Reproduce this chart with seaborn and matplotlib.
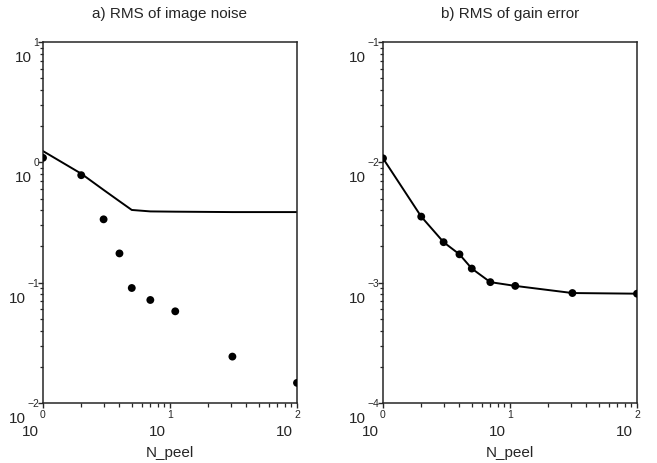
import numpy as np
import matplotlib
matplotlib.use("Agg")
import matplotlib.pyplot as plt
import seaborn as sns

# values
n_peel = [1, 2, 3, 4, 5, 7, 11, 31, 100]
noise_dots = [1.09, 0.782, 0.336, 0.175, 0.0903, 0.0718, 0.0578, 0.0243, 0.0147]
noise_line = [1.24, 0.805, 0.59, 0.475, 0.402, 0.391, 0.389, 0.386, 0.386]
gain_err = [0.0108, 0.00354, 0.00217, 0.00172, 0.00131, 0.00101, 0.00094, 0.00082, 0.00081]

titles = ["a) RMS of image noise", "b) RMS of gain error"]
x_decades = [0, 1, 2]
y_decades = [[-2, -1, 0, 1], [-4, -3, -2, -1]]

sns.set_style("ticks")
plt.rcParams["font.family"] = ["Liberation Sans", "DejaVu Sans"]

PX = 72 / 100  # one pixel in points at dpi 100

fig = plt.figure(figsize=(6.57, 4.64), dpi=100)
ax_a = fig.add_axes([43 / 657, 60 / 464, 254 / 657, 361 / 464])
ax_b = fig.add_axes([383 / 657, 60 / 464, 254 / 657, 361 / 464])


def exp_label(e):
    return str(e).replace("-", "\u2212")


def style_axes(ax, title, ydec):
    ax.set_xscale("log")
    ax.set_yscale("log")
    ax.set_xlim(10 ** x_decades[0], 10 ** x_decades[-1])
    ax.set_ylim(10 ** ydec[0], 10 ** ydec[-1])
    for s in ax.spines.values():
        s.set_visible(True)
        s.set_linewidth(1.1)
    ax.tick_params(which="major", direction="out", length=5 * PX, width=1.0,
                   top=False, right=False)
    ax.tick_params(which="minor", direction="out", length=3.5 * PX, width=0.9,
                   top=False, right=False)
    ax.xaxis.set_major_formatter(matplotlib.ticker.NullFormatter())
    ax.xaxis.set_minor_formatter(matplotlib.ticker.NullFormatter())
    ax.yaxis.set_major_formatter(matplotlib.ticker.NullFormatter())
    ax.yaxis.set_minor_formatter(matplotlib.ticker.NullFormatter())
    ax.set_xlabel("")
    ax.set_ylabel("")
    ax.set_title(title, fontsize=11, pad=25 * PX)
    ax.text(0.5, -49 / 361, "N_peel", transform=ax.transAxes,
            ha="center", va="center", fontsize=11)

    # old style labels: small exponent at the tick, "10" set below it
    for e in ydec:
        ex = ax.annotate(exp_label(e), xy=(0, 10 ** e),
                         xycoords=("axes fraction", "data"),
                         xytext=(-4 * PX, 0), textcoords="offset points",
                         ha="right", va="center", fontsize=7.5)
        ax.annotate("10", xy=(0, 0.5), xycoords=ex,
                    xytext=(-1 * PX, -15 * PX), textcoords="offset points",
                    ha="right", va="center", fontsize=11)
    for e in x_decades:
        ex = ax.annotate(exp_label(e), xy=(10 ** e, 0),
                         xycoords=("data", "axes fraction"),
                         xytext=(0, -11 * PX), textcoords="offset points",
                         ha="center", va="center", fontsize=7.5)
        ax.annotate("10", xy=(0, 0.5), xycoords=ex,
                    xytext=(-1 * PX, -17 * PX), textcoords="offset points",
                    ha="right", va="center", fontsize=11)


# a) image noise
sns.lineplot(x=n_peel, y=noise_line, ax=ax_a, color="black", linewidth=1.4,
             estimator=None, sort=False)
sns.scatterplot(x=n_peel, y=noise_dots, ax=ax_a, color="black", s=32,
                edgecolor="none", zorder=3)
style_axes(ax_a, titles[0], y_decades[0])

# b) gain error
sns.lineplot(x=n_peel, y=gain_err, ax=ax_b, color="black", linewidth=1.4,
             estimator=None, sort=False)
sns.scatterplot(x=n_peel, y=gain_err, ax=ax_b, color="black", s=32,
                edgecolor="none", zorder=3)
style_axes(ax_b, titles[1], y_decades[1])

fig.savefig("out.png", dpi=100)
